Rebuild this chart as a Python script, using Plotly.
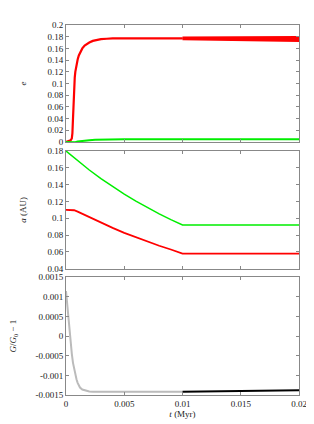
import plotly.graph_objects as go

# --- data ---
t_e = [0, 0.0002, 0.0004, 0.0005, 0.00055, 0.0006, 0.00065, 0.0007, 0.00075, 0.0008, 0.0009, 0.001, 0.0011, 0.0012,
       0.0013, 0.0014, 0.0016, 0.0018, 0.002, 0.0023, 0.0026, 0.003, 0.0035, 0.004, 0.006, 0.01]
e_red = [0, 0.001, 0.003, 0.006, 0.015, 0.04, 0.07, 0.095, 0.11, 0.12, 0.132, 0.141, 0.148, 0.153,
         0.157, 0.160, 0.165, 0.168, 0.170, 0.1728, 0.1745, 0.1758, 0.1765, 0.177, 0.177, 0.177]
t_band = [0.01, 0.0125, 0.015, 0.0175, 0.02]
e_red_upper = [0.1785, 0.179, 0.179, 0.1792, 0.1795]
e_red_lower = [0.1755, 0.1745, 0.174, 0.1732, 0.1725]
t_eg = [0, 0.0003, 0.0005, 0.0008, 0.001, 0.0015, 0.002, 0.0025, 0.003, 0.004, 0.005, 0.01, 0.02]
e_green = [0, -0.0005, -0.001, -0.0003, 0.0008, 0.0022, 0.0031, 0.0037, 0.004, 0.0044, 0.0045, 0.0045, 0.0045]

t_a = [0, 0.001, 0.002, 0.003, 0.004, 0.005, 0.006, 0.007, 0.008, 0.009, 0.01, 0.02]
a_green = [0.18, 0.1683, 0.1574, 0.1471, 0.1375, 0.1287, 0.1203, 0.1125, 0.1052, 0.0983, 0.092, 0.092]
t_ar = [0, 0.0004, 0.0007, 0.001, 0.0015, 0.002, 0.003, 0.004, 0.005, 0.006, 0.007, 0.008, 0.009, 0.01, 0.02]
a_red = [0.11, 0.11, 0.1095, 0.1078, 0.1045, 0.1012, 0.0948, 0.0885, 0.0826, 0.0772, 0.0721, 0.0673, 0.0628, 0.058, 0.058]

t_g = [0, 0.0001, 0.0002, 0.0003, 0.0004, 0.0005, 0.0006, 0.0007, 0.0008, 0.0009, 0.001, 0.0011, 0.0012, 0.0014,
       0.0016, 0.0018, 0.002, 0.0023, 0.0026, 0.003, 0.004, 0.006, 0.01]
g_grey = [0.00115, 0.0008, 0.00045, 0.00012, -0.00018, -0.00045, -0.00068, -0.00085, -0.00099, -0.0011, -0.00119,
          -0.00126, -0.00131, -0.00136, -0.00138, -0.0014, -0.00141, -0.00142, -0.00142, -0.00142, -0.00142,
          -0.00142, -0.00142]
t_gb = [0.01, 0.0125, 0.015, 0.0175, 0.02]
g_black = [-0.00142, -0.00141, -0.0014, -0.00139, -0.00138]

x_ticks = [0, 0.005, 0.01, 0.015, 0.02]
x_ticklabels = ["0", "0.005", "0.01", "0.015", "0.02"]
y1_ticks = [0, 0.02, 0.04, 0.06, 0.08, 0.1, 0.12, 0.14, 0.16, 0.18, 0.2]
y1_labels = ["0", "0.02", "0.04", "0.06", "0.08", "0.1", "0.12", "0.14", "0.16", "0.18", "0.2"]
y2_ticks = [0.04, 0.06, 0.08, 0.1, 0.12, 0.14, 0.16, 0.18]
y2_labels = ["0.04", "0.06", "0.08", "0.1", "0.12", "0.14", "0.16", "0.18"]
y3_ticks = [-0.0015, -0.001, -0.0005, 0, 0.0005, 0.001, 0.0015]
y3_labels = ["-0.0015", "-0.001", "-0.0005", "0", "0.0005", "0.001", "0.0015"]

RED = "#ff0000"
GREEN = "#00ee00"
GREY = "#bbbbbb"
AX = "#888888"
TXT = "#222222"
FONT = "Liberation Serif"
FS = 9

fig = go.Figure()
# Panel 1
fig.add_trace(go.Scatter(x=t_band, y=e_red_upper, mode="lines", line=dict(color=RED, width=2),
                         xaxis="x", yaxis="y", showlegend=False))
fig.add_trace(go.Scatter(x=t_band, y=e_red_lower, mode="lines", line=dict(color=RED, width=2),
                         fill="tonexty", fillcolor=RED, xaxis="x", yaxis="y", showlegend=False))
fig.add_trace(go.Scatter(x=t_e, y=e_red, mode="lines", line=dict(color=RED, width=2.2),
                         xaxis="x", yaxis="y", showlegend=False))
fig.add_trace(go.Scatter(x=t_eg, y=e_green, mode="lines", line=dict(color=GREEN, width=2),
                         xaxis="x", yaxis="y", showlegend=False))
# Panel 2
fig.add_trace(go.Scatter(x=t_a, y=a_green, mode="lines", line=dict(color=GREEN, width=1.5),
                         xaxis="x2", yaxis="y2", showlegend=False))
fig.add_trace(go.Scatter(x=t_ar, y=a_red, mode="lines", line=dict(color=RED, width=1.8),
                         xaxis="x2", yaxis="y2", showlegend=False))
# Panel 3
fig.add_trace(go.Scatter(x=t_g, y=g_grey, mode="lines", line=dict(color=GREY, width=2),
                         xaxis="x3", yaxis="y3", showlegend=False))
fig.add_trace(go.Scatter(x=t_gb, y=g_black, mode="lines", line=dict(color="#000000", width=2),
                         xaxis="x3", yaxis="y3", showlegend=False))

common_x = dict(range=[0, 0.02], tickvals=x_ticks, ticktext=x_ticklabels, ticks="inside", ticklen=3,
                tickcolor=AX, showline=True, linecolor=AX, linewidth=1, mirror="ticks", automargin=False,
                showgrid=False, zeroline=False, tickfont=dict(family=FONT, size=FS, color=TXT))
common_y = dict(ticks="inside", ticklen=3, tickcolor=AX, showline=True, linecolor=AX, linewidth=1,
                mirror="ticks", showgrid=False, zeroline=False, automargin=False,
                tickfont=dict(family=FONT, size=FS, color=TXT))

# page body has an 8px margin: figure is sized/offset to land the plot where the reference has it
fig.update_layout(
    width=306, height=416,
    margin=dict(l=58, r=15, t=17, b=29),
    paper_bgcolor="white", plot_bgcolor="white",
    font=dict(family=FONT, size=FS, color=TXT),
    xaxis=dict(common_x, domain=[0, 1], anchor="y", showticklabels=False),
    xaxis2=dict(common_x, domain=[0, 1], anchor="y2", showticklabels=False),
    xaxis3=dict(common_x, domain=[0, 1], anchor="y3", showticklabels=True,
                title=dict(text="<i>t</i> (Myr)", font=dict(family=FONT, size=FS, color=TXT), standoff=2)),
    yaxis=dict(common_y, domain=[0.6838, 1], range=[0, 0.2], tickvals=y1_ticks, ticktext=y1_labels,
               title=dict(text="<i>e</i>", font=dict(family=FONT, size=FS, color=TXT), standoff=19)),
    yaxis2=dict(common_y, domain=[0.3414, 0.6595], range=[0.04, 0.18], tickvals=y2_ticks, ticktext=y2_labels,
                title=dict(text="<i>a</i> (AU)", font=dict(family=FONT, size=FS, color=TXT), standoff=19)),
    yaxis3=dict(common_y, domain=[0, 0.318], range=[-0.0015, 0.0015], tickvals=y3_ticks, ticktext=y3_labels,
                title=dict(text="<i>G</i>/<i>G</i><sub>0</sub> − 1", font=dict(family=FONT, size=FS, color=TXT),
                           standoff=22)),
)

fig.write_html("out.html")
